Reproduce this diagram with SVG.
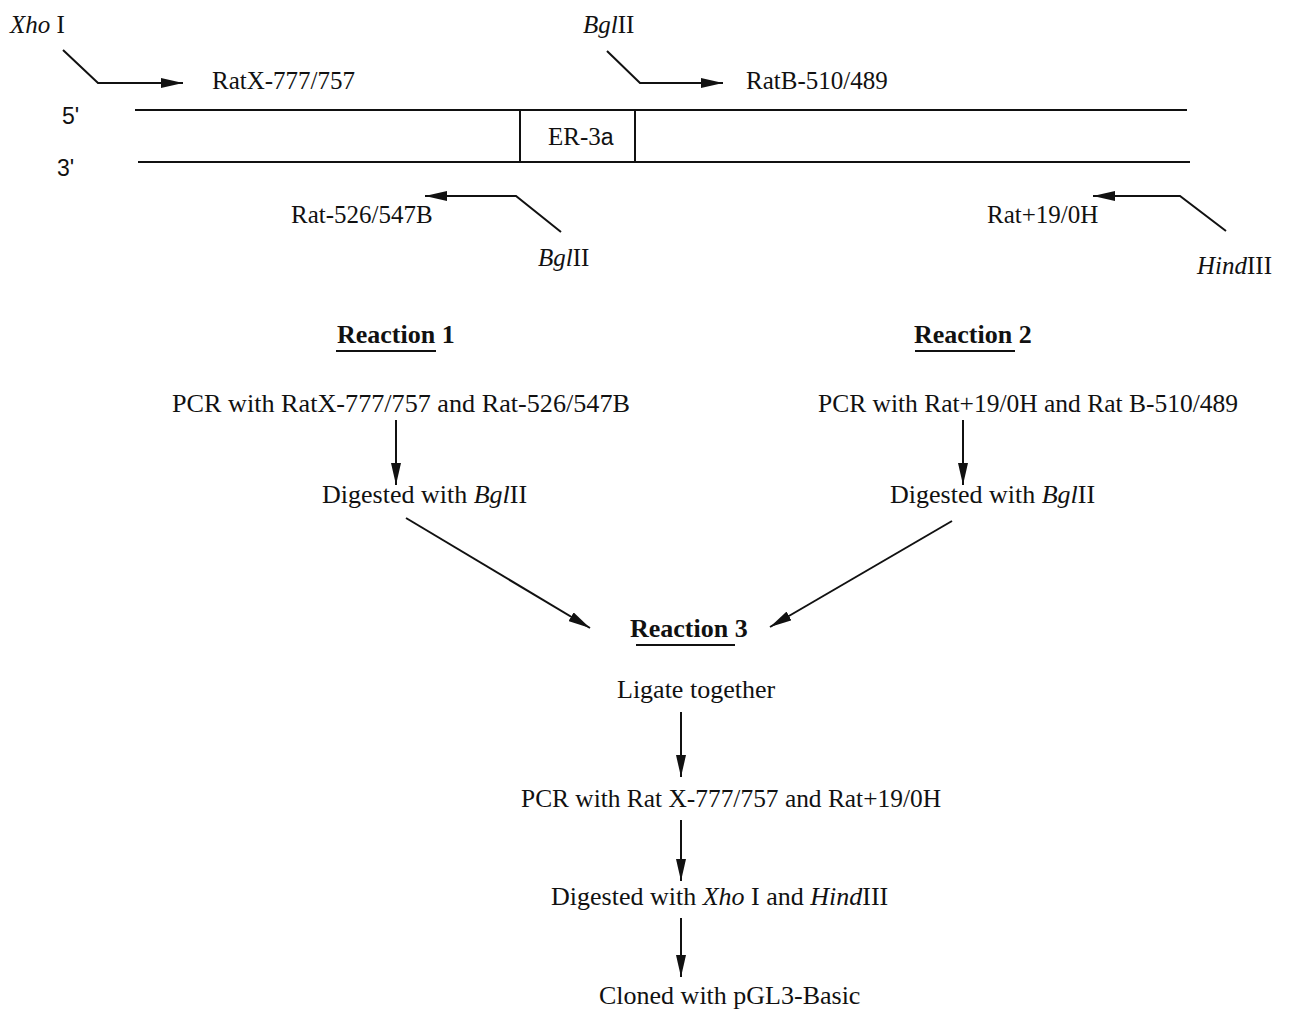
<svg xmlns="http://www.w3.org/2000/svg" width="1294" height="1009" viewBox="0 0 1294 1009">
<defs>
<style>
text{font-family:"Liberation Serif","Times New Roman",serif;font-size:26px;fill:#111}
.lab{font-size:25px}
.sans{font-family:"Liberation Sans",Arial,sans-serif;font-size:23px}
.b{font-weight:bold}
.i{font-style:italic}
.ln{stroke:#111;stroke-width:2;fill:none}
.ul{stroke:#111;stroke-width:2}
</style>
<marker id="ah" viewBox="0 0 22 10" refX="22" refY="5" markerWidth="22" markerHeight="10" markerUnits="userSpaceOnUse" orient="auto">
<path d="M0,0 L22,5 L0,10 z" fill="#111"/>
</marker>
</defs>
<rect width="1294" height="1009" fill="#fff"/>

<g id="dna">
<line class="ln" x1="135" y1="110" x2="1187" y2="110"/>
<line class="ln" x1="138" y1="162" x2="1190" y2="162"/>
<line class="ln" x1="520" y1="110" x2="520" y2="162"/>
<line class="ln" x1="635" y1="110" x2="635" y2="162"/>
<text x="548" y="145" class="lab">ER-3<tspan class="sans" font-size="27">a</tspan></text>
<text x="62" y="124" class="sans">5'</text>
<text x="57" y="176" class="sans">3'</text>
</g>

<g id="connectors">
<polyline class="ln" points="63,50 98,83 183,83" marker-end="url(#ah)"/>
<polyline class="ln" points="607,51 640,83 723,83" marker-end="url(#ah)"/>
<polyline class="ln" points="561,232 516,196 425,196" marker-end="url(#ah)"/>
<polyline class="ln" points="1226,231 1180,196 1093,196" marker-end="url(#ah)"/>
<line class="ln" x1="396" y1="420" x2="396" y2="485" marker-end="url(#ah)"/>
<line class="ln" x1="963" y1="420" x2="963" y2="485" marker-end="url(#ah)"/>
<line class="ln" x1="406" y1="518" x2="590" y2="628" marker-end="url(#ah)"/>
<line class="ln" x1="952" y1="521" x2="770" y2="627" marker-end="url(#ah)"/>
<line class="ln" x1="681" y1="712" x2="681" y2="777" marker-end="url(#ah)"/>
<line class="ln" x1="681" y1="820" x2="681" y2="881" marker-end="url(#ah)"/>
<line class="ln" x1="681" y1="918" x2="681" y2="977" marker-end="url(#ah)"/>
</g>

<g id="xhoI-top"><text x="10" y="33" class="lab"><tspan class="i">Xho</tspan> I</text></g>
<g id="primer-ratX"><text x="212" y="89" class="lab">RatX-777/757</text></g>
<g id="bglII-top"><text x="583" y="33" class="lab"><tspan class="i">Bgl</tspan>II</text></g>
<g id="primer-ratB"><text x="746" y="89" class="lab">RatB-510/489</text></g>
<g id="primer-rat526"><text x="291" y="223" class="lab">Rat-526/547B</text></g>
<g id="bglII-bottom"><text x="538" y="266" class="lab"><tspan class="i">Bgl</tspan>II</text></g>
<g id="primer-rat19"><text x="987" y="223" class="lab">Rat+19/0H</text></g>
<g id="hindIII-bottom"><text x="1197" y="274" class="lab"><tspan class="i">Hind</tspan>III</text></g>

<g id="reaction1">
<text x="337" y="343" class="b">Reaction 1</text>
<line class="ul" x1="336" y1="351" x2="436" y2="351"/>
</g>
<g id="reaction2">
<text x="914" y="343" class="b">Reaction 2</text>
<line class="ul" x1="915" y1="351" x2="1015" y2="351"/>
</g>
<g id="pcr1"><text x="172" y="412" textLength="458" lengthAdjust="spacingAndGlyphs">PCR with RatX-777/757 and Rat-526/547B</text></g>
<g id="digest1"><text x="322" y="503">Digested with <tspan class="i">Bgl</tspan>II</text></g>
<g id="pcr2"><text x="818" y="412" textLength="420" lengthAdjust="spacingAndGlyphs">PCR with Rat+19/0H and Rat B-510/489</text></g>
<g id="digest2"><text x="890" y="503">Digested with <tspan class="i">Bgl</tspan>II</text></g>
<g id="reaction3">
<text x="630" y="637" class="b">Reaction 3</text>
<line class="ul" x1="636" y1="645" x2="735" y2="645"/>
</g>
<g id="ligate"><text x="617" y="698">Ligate together</text></g>
<g id="pcr3"><text x="521" y="807" textLength="420" lengthAdjust="spacingAndGlyphs">PCR with Rat X-777/757 and Rat+19/0H</text></g>
<g id="digest3"><text x="551" y="905">Digested with <tspan class="i">Xho</tspan> I and <tspan class="i">Hind</tspan>III</text></g>
<g id="clone"><text x="599" y="1004">Cloned with pGL3-Basic</text></g>
</svg>
